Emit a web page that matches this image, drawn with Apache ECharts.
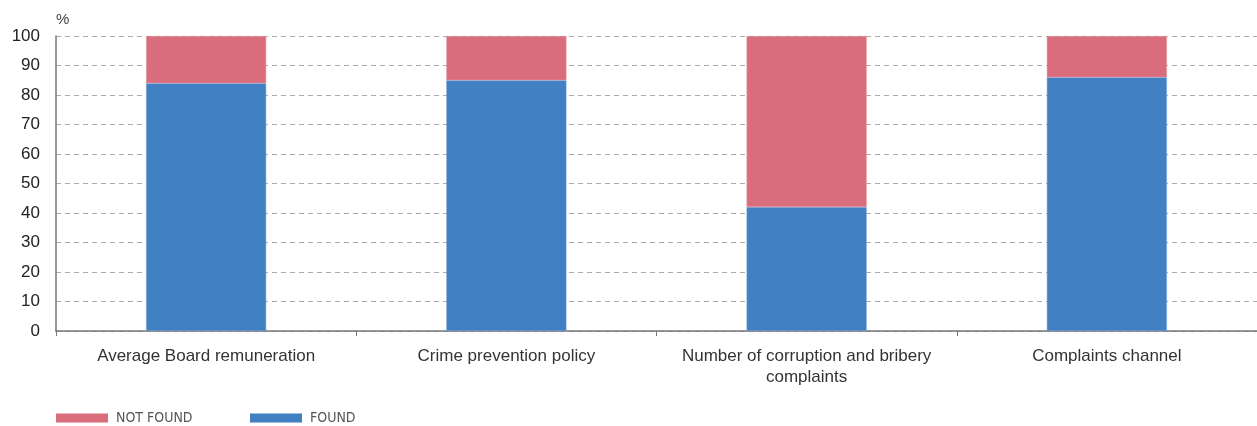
<!DOCTYPE html>
<html><head><meta charset="utf-8">
<script src="https://cdn.jsdelivr.net/npm/echarts@6/dist/echarts.min.js"></script>
<style>html,body{margin:0;padding:0;background:#fff}#c{width:1257px;height:426px}</style>
</head><body><div id="c"></div>
<script>
const categories = ["Average Board remuneration", "Crime prevention policy", "Number of corruption and bribery\ncomplaints", "Complaints channel"];
const found = [84, 85, 42, 86];
const notFound = [16, 15, 58, 14];
const seriesNames = ["NOT FOUND", "FOUND"];

const legendText = {fontFamily: "Liberation Sans Narrow, DejaVu Sans Condensed, Liberation Sans, sans-serif", fontSize: 14, color: '#555', padding: [0,0,0,3]};
const chart = echarts.init(document.getElementById('c'));
chart.setOption({
  animation: false,
  textStyle: {fontFamily: "Liberation Sans, Arial, sans-serif"},
  grid: {left: 56, right: 0, top: 36, bottom: 95, containLabel: false},
  legend: [
    {left: 51, top: 406, itemWidth: 52, itemHeight: 9, itemGap: 0, icon: 'rect',
     itemStyle: {borderWidth: 0}, data: [seriesNames[0]], textStyle: legendText},
    {left: 245, top: 406, itemWidth: 52, itemHeight: 9, itemGap: 0, icon: 'rect',
     itemStyle: {borderWidth: 0}, data: [seriesNames[1]], textStyle: legendText}
  ],
  xAxis: {
    type: 'category', data: categories,
    axisLine: {lineStyle: {color: '#777', width: 1.5}},
    axisTick: {show: true, interval: 0, length: 5, lineStyle: {color: '#777'}},
    axisLabel: {interval: 0, fontSize: 17, color: '#333', margin: 15, lineHeight: 21}
  },
  yAxis: {
    type: 'value', min: 0, max: 100, interval: 10,
    name: '%', nameLocation: 'end', nameGap: 9,
    nameTextStyle: {fontSize: 15, color: '#444', align: 'left', padding: [0,0,0,0]},
    axisLine: {show: true, lineStyle: {color: '#777', width: 1.5}},
    axisTick: {show: false},
    axisLabel: {fontSize: 17, color: '#222', margin: 16},
    splitLine: {lineStyle: {color: '#aaa', type: [5,4], width: 1}}
  },
  series: [
    {name: 'FOUND', type: 'bar', stack: 's', data: found, barWidth: '40%',
     itemStyle: {color: '#4180C3', borderColor: '#7EA9DA', borderWidth: 0.5}},
    {name: 'NOT FOUND', type: 'bar', stack: 's', data: notFound, barWidth: '40%',
     itemStyle: {color: '#D96D7B', borderColor: '#E59AA4', borderWidth: 0.5}}
  ]
});
</script></body></html>
